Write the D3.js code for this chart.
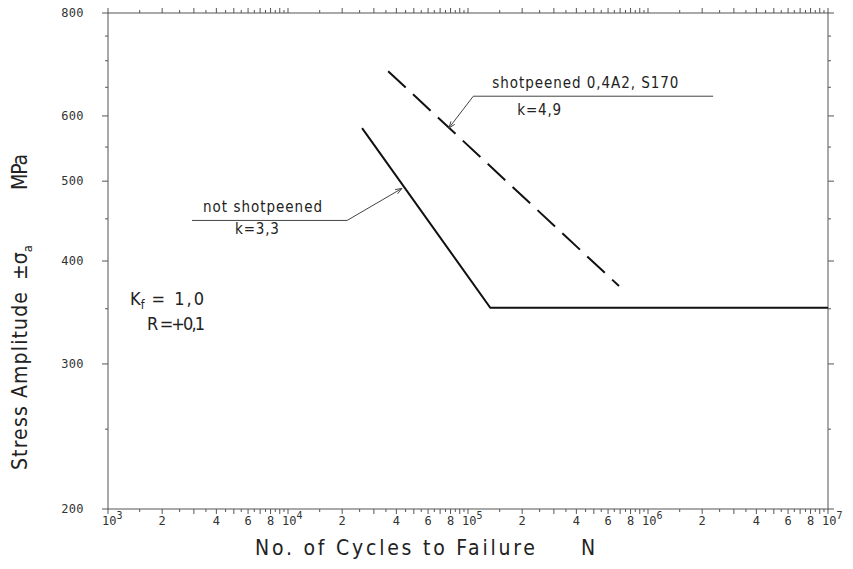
<!DOCTYPE html>
<html>
<head>
<meta charset="utf-8">
<script src="https://cdn.jsdelivr.net/npm/d3@7"></script>
<style>
  html, body { margin: 0; padding: 0; background: #fff; }
  svg { display: block; }
  .lbl { font-family: "DejaVu Sans", sans-serif; fill: #222; }
  .narrow { font-family: "Liberation Sans Narrow", "DejaVu Sans Condensed", "DejaVu Sans", sans-serif; fill: #222; }
  .tick { font-family: "DejaVu Sans Mono", monospace; fill: #333; }
</style>
</head>
<body>
<svg id="chart" width="853" height="569"></svg>
<script>
// ---------- data ----------
const notShotpeenedN = [2.58e4, 1.33e5, 1e7];
const notShotpeenedS = [580, 351, 351];
const shotpeenedN = [3.6e4, 6.9e5];
const shotpeenedS = [680, 373];
const yTickLabels = [200, 300, 400, 500, 600, 800];
const yMinorTicks = [200, 250, 300, 350, 400, 450, 500, 550, 600, 650, 700, 750, 800];
const xDecades = [1e3, 1e4, 1e5, 1e6, 1e7];
const xDecadeExp = ["3", "4", "5", "6", "7"];
const xMantissaLabels = [2, 4, 6, 8];
const xMajorMantissa = [1, 2, 3, 4, 5, 6, 7, 8, 9];
const xMinorMantissa = [1.5, 2.5, 3.5, 4.5, 5.5, 6.5, 7.5, 8.5, 9.5];

// ---------- layout ----------
const svg = d3.select("#chart");
const L = 108, R = 828, T = 13, B = 509;
const x = d3.scaleLog().domain([1e3, 1e7]).range([L, R]);
const y = d3.scaleLog().domain([200, 800]).range([B, T]);

const axisColor = "#555";

// frame
svg.append("rect").attr("x", L).attr("y", T).attr("width", R - L).attr("height", B - T)
  .attr("fill", "none").attr("stroke", axisColor).attr("stroke-width", 1);

// x ticks (bottom outward, top outward)
const xMaj = [], xMin = [];
xDecades.slice(0, 4).forEach(d => {
  xMajorMantissa.forEach(m => xMaj.push(d * m));
  xMinorMantissa.forEach(m => xMin.push(d * m));
});
xMaj.push(1e7);

const gx = svg.append("g");
gx.selectAll(".xb").data(xMaj).join("line")
  .attr("x1", d => x(d)).attr("x2", d => x(d)).attr("y1", B).attr("y2", B + 5)
  .attr("stroke", axisColor);
gx.selectAll(".xbm").data(xMin).join("line")
  .attr("x1", d => x(d)).attr("x2", d => x(d)).attr("y1", B).attr("y2", B + 3)
  .attr("stroke", axisColor);
gx.selectAll(".xt").data(xMaj).join("line")
  .attr("x1", d => x(d)).attr("x2", d => x(d)).attr("y1", T).attr("y2", T - 5)
  .attr("stroke", axisColor);
gx.selectAll(".xtm").data(xMin).join("line")
  .attr("x1", d => x(d)).attr("x2", d => x(d)).attr("y1", T).attr("y2", T - 3)
  .attr("stroke", axisColor);

// x tick labels
xDecades.forEach((d, i) => {
  const t = svg.append("text").attr("class", "tick").attr("x", x(d) - 6).attr("y", 525)
    .attr("font-size", 12);
  t.append("tspan").text("10");
  t.append("tspan").attr("dy", -6).attr("font-size", 10).text(xDecadeExp[i]);
  if (i < 4) {
    xMantissaLabels.forEach(m => {
      svg.append("text").attr("class", "tick").attr("x", x(d * m)).attr("y", 525)
        .attr("text-anchor", "middle").attr("font-size", 12).text(m);
    });
  }
});

// y ticks
const gy = svg.append("g");
gy.selectAll(".yl").data(yMinorTicks).join("line")
  .attr("x1", L).attr("x2", d => L - (yTickLabels.includes(d) ? 6 : 3))
  .attr("y1", d => y(d)).attr("y2", d => y(d)).attr("stroke", axisColor);
gy.selectAll(".yr").data(yMinorTicks).join("line")
  .attr("x1", R).attr("x2", d => R + (yTickLabels.includes(d) ? 6 : 3))
  .attr("y1", d => y(d)).attr("y2", d => y(d)).attr("stroke", axisColor);
gy.selectAll(".ytl").data(yTickLabels).join("text").attr("class", "tick")
  .attr("x", 84).attr("y", d => y(d) + 4).attr("text-anchor", "end")
  .attr("font-size", 12).attr("letter-spacing", 0.4).text(d => d);

// ---------- curves ----------
const line = d3.line().x(d => x(d[0])).y(d => y(d[1]));
svg.append("path")
  .attr("d", line(notShotpeenedN.map((n, i) => [n, notShotpeenedS[i]])))
  .attr("fill", "none").attr("stroke", "#111").attr("stroke-width", 2);
svg.append("path")
  .attr("d", line(shotpeenedN.map((n, i) => [n, shotpeenedS[i]])))
  .attr("fill", "none").attr("stroke", "#111").attr("stroke-width", 2)
  .attr("stroke-dasharray", "24,10");

// ---------- annotations ----------
function arrowHead(tx, ty, fx, fy) {
  const a = Math.atan2(ty - fy, tx - fx), len = 7, sp = 0.35;
  svg.append("path")
    .attr("d", `M${tx - len * Math.cos(a - sp)},${ty - len * Math.sin(a - sp)} L${tx},${ty} L${tx - len * Math.cos(a + sp)},${ty - len * Math.sin(a + sp)}`)
    .attr("fill", "none").attr("stroke", "#444").attr("stroke-width", 1);
}
// shotpeened leader
{
  const tip = [x(7.83e4), y(580)], elbow = [x(1.07e5), y(634)], end = [x(2.3e6), y(634)];
  svg.append("path").attr("d", `M${end[0]},${end[1]} L${elbow[0]},${elbow[1]} L${tip[0]},${tip[1]}`)
    .attr("fill", "none").attr("stroke", "#444").attr("stroke-width", 1);
  arrowHead(tip[0], tip[1], elbow[0], elbow[1]);
  svg.append("text").attr("class", "narrow").attr("x", elbow[0] + 19).attr("y", elbow[1] - 8)
    .attr("font-size", 15).attr("textLength", 186).attr("lengthAdjust", "spacing")
    .text("shotpeened 0,4A2, S170");
  svg.append("text").attr("class", "narrow").attr("x", elbow[0] + 44).attr("y", elbow[1] + 19)
    .attr("font-size", 15).attr("letter-spacing", 0.8).text("k=4,9");
}
// not shotpeened leader
{
  const tip = [x(4.3e4), y(490)], elbow = [x(2.13e4), y(448)], start = [x(2.93e3), y(448)];
  svg.append("path").attr("d", `M${start[0]},${start[1]} L${elbow[0]},${elbow[1]} L${tip[0]},${tip[1]}`)
    .attr("fill", "none").attr("stroke", "#444").attr("stroke-width", 1);
  arrowHead(tip[0], tip[1], elbow[0], elbow[1]);
  svg.append("text").attr("class", "narrow").attr("x", start[0] + 11).attr("y", start[1] - 8)
    .attr("font-size", 15).attr("textLength", 119).attr("lengthAdjust", "spacing")
    .text("not shotpeened");
  svg.append("text").attr("class", "narrow").attr("x", start[0] + 43).attr("y", start[1] + 14)
    .attr("font-size", 15).attr("letter-spacing", 0.8).text("k=3,3");
}

// Kf and R
{
  const t = svg.append("text").attr("class", "narrow").attr("x", 130).attr("y", 305)
    .attr("font-size", 18);
  t.append("tspan").text("K");
  t.append("tspan").attr("dy", 4).attr("font-size", 12).text("f");
  t.append("tspan").attr("dy", -4).attr("letter-spacing", 2).text(" = 1,0");
  svg.append("text").attr("class", "narrow").attr("x", 147).attr("y", 330)
    .attr("font-size", 18).attr("textLength", 58).attr("lengthAdjust", "spacing").text("R =+0,1");
}

// axis titles
svg.append("text").attr("class", "narrow").attr("x", 255).attr("y", 555)
  .attr("font-size", 21).attr("textLength", 280).attr("lengthAdjust", "spacing")
  .text("No. of Cycles to Failure");
svg.append("text").attr("class", "narrow").attr("x", 581).attr("y", 555)
  .attr("font-size", 21).text("N");

const yTitle = (txt, yStart, len) => svg.append("text").attr("class", "narrow")
  .attr("transform", `translate(27,${yStart}) rotate(-90)`)
  .attr("font-size", 21).attr("textLength", len).attr("lengthAdjust", "spacing").text(txt);
yTitle("Stress Amplitude", 470, 178);
{
  const t = svg.append("text").attr("class", "narrow")
    .attr("transform", "translate(27,280) rotate(-90)").attr("font-size", 21);
  t.append("tspan").text("±σ");
  t.append("tspan").attr("dy", 5).attr("font-size", 13).text("a");
}
yTitle("MPa", 190, 36);
</script>
</body>
</html>
